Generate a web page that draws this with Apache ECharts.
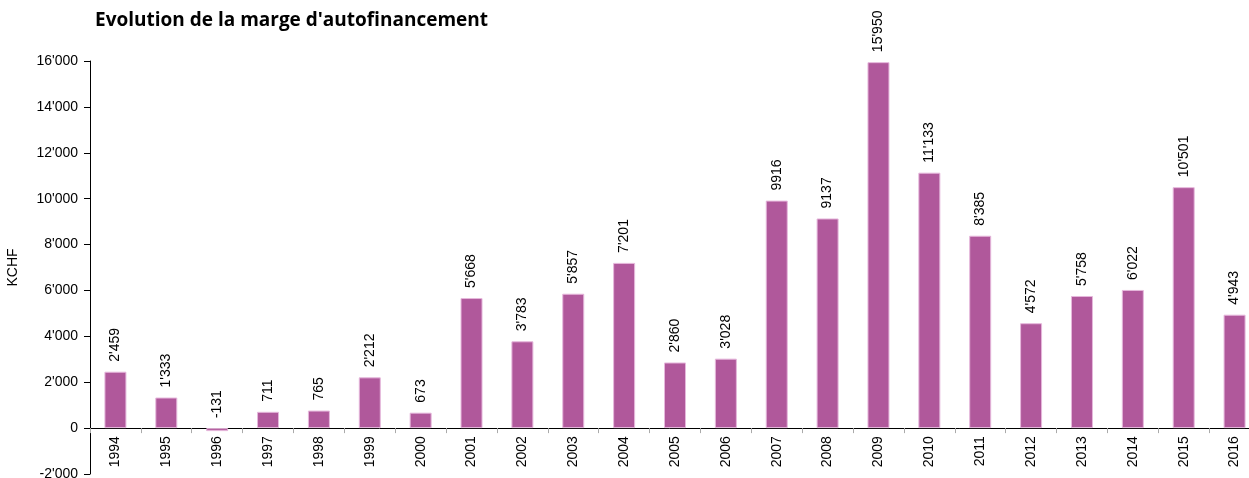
<!DOCTYPE html>
<html>
<head>
<meta charset="utf-8">
<script src="https://cdn.jsdelivr.net/npm/echarts@6/dist/echarts.min.js"></script>
<style>
  html, body { margin: 0; padding: 0; background: #fff; }
  #chart { width: 1249px; height: 478px; }
</style>
</head>
<body>
<div id="chart"></div>
<script>
const years = ['1994', '1995', '1996', '1997', '1998', '1999', '2000', '2001', '2002', '2003', '2004', '2005',
  '2006', '2007', '2008', '2009', '2010', '2011', '2012', '2013', '2014', '2015', '2016']
const marge = [2459, 1333, -131, 711, 765, 2212, 673, 5668, 3783, 5857, 7201, 2860,
  3028, 9916, 9137, 15950, 11133, 8385, 4572, 5758, 6022, 10501, 4943]
// labels as printed on the chart (two of them have no separator)
const labelTexts = ["2'459", "1'333", '-131', '711', '765', "2'212", '673', "5'668", "3'783", "5'857", "7'201", "2'860",
  "3'028", '9916', '9137', "15'950", "11'133", "8'385", "4'572", "5'758", "6'022", "10'501", "4'943"]

const yMin = -2000
const yMax = 16000

const fmt = v => {
  const s = Math.abs(v).toString().replace(/\B(?=(\d{3})+(?!\d))/g, "'")
  return (v < 0 ? '-' : '') + s
}

const gridTop = 61
const gridBottom = 4
const chartHeight = 478
// lift the category axis (line, ticks, labels) up to the zero line
const plotH = chartHeight - gridTop - gridBottom
const zeroOffset = -plotH * (0 - yMin) / (yMax - yMin)

const chart = echarts.init(document.getElementById('chart'))
chart.setOption({
  animation: false,
  title: {
    text: "Evolution de la marge d'autofinancement",
    left: 90,
    top: 6,
    textStyle: { fontFamily: 'Open Sans', fontSize: 19, fontWeight: 'bold', color: '#000' }
  },
  grid: { left: 90, right: -11, top: gridTop, bottom: gridBottom, containLabel: false, outerBoundsMode: 'none' },
  xAxis: {
    type: 'category',
    data: years,
    position: 'bottom',
    offset: zeroOffset,
    axisLine: { onZero: false, lineStyle: { color: '#000', width: 1 } },
    axisTick: { show: true, length: 5, lineStyle: { color: '#aaa' } },
    axisLabel: {
      interval: 0,
      rotate: 90,
      margin: 8,
      fontFamily: 'Liberation Sans',
      fontSize: 14,
      color: '#000'
    }
  },
  yAxis: {
    type: 'value',
    min: yMin,
    max: yMax,
    interval: 2000,
    name: 'KCHF',
    nameLocation: 'middle',
    nameRotate: 90,
    nameGap: 70,
    nameTextStyle: { fontFamily: 'Liberation Sans', fontSize: 14, color: '#000' },
    axisLine: { show: true, lineStyle: { color: '#000', width: 1 } },
    axisTick: { show: true, length: 6, lineStyle: { color: '#000' } },
    splitLine: { show: false },
    axisLabel: {
      margin: 12,
      fontFamily: 'Liberation Sans',
      fontSize: 14,
      color: '#000',
      formatter: fmt
    }
  },
  series: [{
    type: 'bar',
    data: marge,
    barWidth: 22,
    itemStyle: { color: '#b0589b', borderColor: '#e6b8dc', borderWidth: 1 },
    label: {
      show: true,
      position: 'top',
      rotate: 90,
      align: 'left',
      verticalAlign: 'middle',
      distance: 10,
      fontFamily: 'Liberation Sans',
      fontSize: 14,
      color: '#000',
      formatter: p => labelTexts[p.dataIndex]
    }
  }]
})
</script>
</body>
</html>
